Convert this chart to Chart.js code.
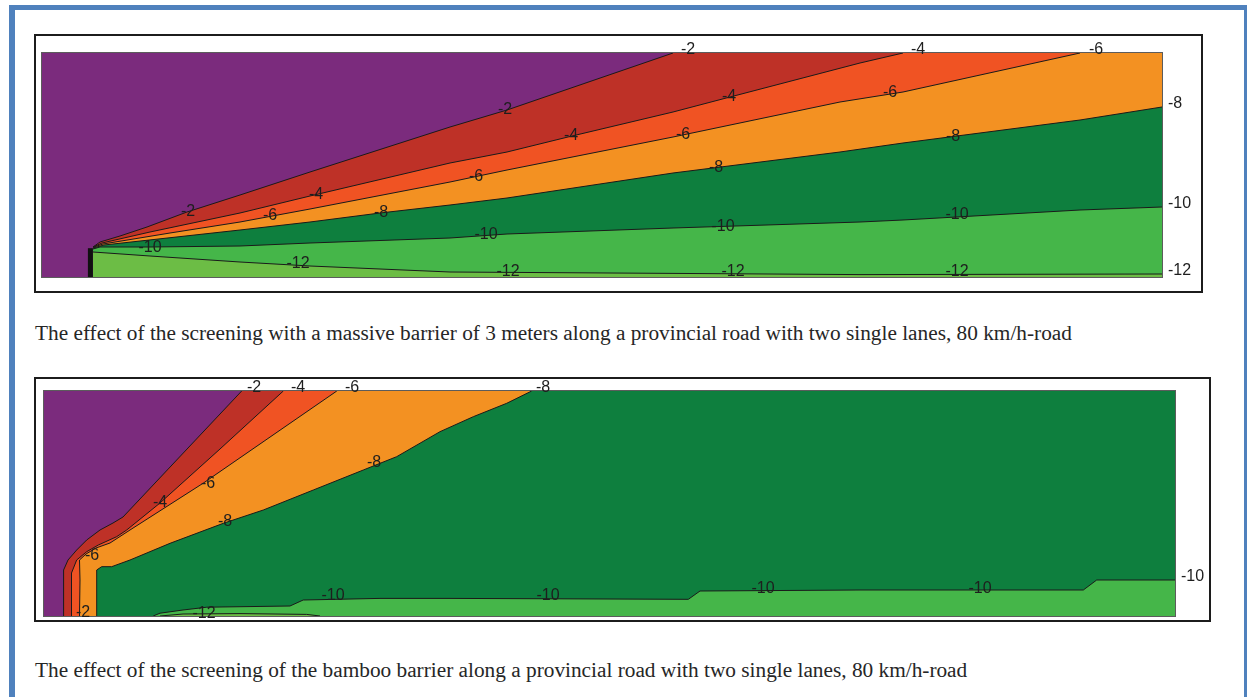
<!DOCTYPE html>
<html>
<head>
<meta charset="utf-8">
<script src="https://cdn.jsdelivr.net/npm/chart.js@4.4.0/dist/chart.umd.min.js"></script>
<style>
  html, body { margin: 0; padding: 0; background: #fff; width: 1247px; height: 697px; overflow: hidden; position: relative; }
  #page { position: absolute; left: 9px; top: 5px; width: 1238px; height: 760px; box-sizing: border-box;
          border-left: 6px solid #4F81BD; border-top: 5px solid #4F81BD; border-right: 3px solid #4F81BD; }
  .frame { position: absolute; box-sizing: border-box; border: 2px solid #1c1c1c; background: #fff; }
  .frame canvas { position: absolute; left: 0; top: 0; }
  .caption { position: absolute; left: 35px; font-family: "Liberation Serif", "Times New Roman", serif;
             font-size: 21.3px; line-height: 20px; color: #262626; white-space: nowrap; }
</style>
</head>
<body>
<div id="page"></div>

<div class="frame" style="left:34px; top:34px; width:1169px; height:259px;">
  <canvas id="massive" width="1165" height="255"></canvas>
</div>
<div class="caption" style="top:322.8px;">The effect of the screening with a massive barrier of 3 meters along a provincial road with two single lanes, 80 km/h-road</div>

<div class="frame" style="left:34px; top:377px; width:1177px; height:245px;">
  <canvas id="bamboo" width="1173" height="241"></canvas>
</div>
<div class="caption" style="top:659.5px;">The effect of the screening of the bamboo barrier along a provincial road with two single lanes, 80 km/h-road</div>

<script>
// ---- Contour levels (dB) ----
const levels = [-2, -4, -6, -8, -10, -12];

// ---- Massive 3 m barrier: contour lines as [distance, height] ----
const massiveLevel2  = [[12.75,7.5],[14.5,8.75],[19.5,10.25],[26.25,12.5],[36.25,16.25],[49.5,20.5],[67,26.25],[102,37.5],[116.25,41.75],[157.75,56],[280,56]];
const massiveLevel4  = [[12.75,7.5],[15,8.5],[27,11.25],[49.5,16],[67,20.25],[102,28.5],[116.25,31.25],[132.5,35.25],[157.75,41.25],[172,45],[204.5,53.5],[215.25,56],[280,56]];
const massiveLevel6  = [[12.75,7.4],[15.25,8.25],[32,11],[49.5,13.75],[67,17],[102,23.75],[116.25,26.75],[157.75,35],[199.5,43.75],[215.25,46.25],[259.5,56],[280,56]];
const massiveLevel8  = [[12.75,7.25],[15.5,8],[49.5,11.75],[67,13.75],[84.5,16],[102,18],[116.25,19.75],[157.75,26],[199.5,31.25],[215.25,33.5],[259.5,39.25],[280,42.5]];
const massiveLevel10 = [[12.75,7],[14.5,7.5],[27,7.5],[49.5,7.75],[67,8.5],[102,9.75],[116.25,10.75],[157.75,12.25],[204.5,13.75],[215.25,14.25],[259.5,16.75],[280,17.5]];
const massiveLevel12 = [[12.75,6.25],[27,5.25],[49.5,3.75],[67,2.75],[102,1.25],[157.75,0.9],[204.5,0.6],[280,0.75]];
const massiveWall    = [[12.1,0],[12.1,7.2]];
// contour labels: [level, distance, height]
const massiveLabels = [
  [-2,36.5,16.25],[-6,57,15.3],[-4,68.5,20.6],[-8,84.75,16.1],[-10,27,7.3],[-12,64,3.4],
  [-2,115.75,41.9],[-4,132.25,35.3],[-6,108.5,25.2],[-10,111,10.6],[-12,116.5,1.3],
  [-2,161.5,56.75],[-4,171.75,45],[-6,160.25,35.5],[-8,168.5,27.3],[-10,170.25,12.7],[-12,172.75,1.3],
  [-4,219,56.75],[-6,212,46],[-8,227.75,35],[-10,228.75,15.6],[-12,228.75,1.3],[-6,263.5,56.75]
];
const massiveEdgeLevels = [-8, -10, -12];

// ---- Bamboo barrier: contour lines as [distance, height] ----
const bambooLevel2  = [[4.9,0],[4.9,6.5],[4.9,11.5],[6,14],[8.17,16.5],[10.67,19],[14,21.5],[17.25,23.25],[19.75,24.75],[49.42,56.25],[282.75,56.25]];
const bambooLevel4  = [[6.875,0],[6.875,10.75],[8.17,14],[10.67,16.08],[13.58,17.75],[18.17,19.83],[20.67,21.5],[29,28.25],[44,41.75],[59.83,56.25],[282.75,56.25]];
const bambooLevel6  = [[8.875,0],[9,9],[8.875,14],[10.5,15.5],[13,17],[16.5,18.25],[21.5,21.5],[39.8,33.2],[73.2,56.25],[282.75,56.25]];
const bambooLevel8  = [[13.17,0],[13.17,11.5],[14.42,12.33],[16.92,12.33],[21.5,14],[31.5,18.17],[44.83,23.17],[54.83,26.5],[67.33,31.5],[79.83,36.5],[88.17,39.83],[99,46.08],[107.33,49.83],[115.67,53.17],[121.92,56.25],[282.75,56.25]];
const bambooLevel10 = [[27.3,0],[29,0.7],[34.75,1.5],[40.7,2.2],[61.5,2.5],[64.8,4.0],[84,4.4],[101.5,4.4],[161.08,4.17],[164,6.25],[204,6.5],[259.83,6.5],[263.17,9],[282.75,9]];
const bambooLevel12 = [[29,0],[34.75,0.5],[49,0.6],[65.67,0.4],[69,0]];
const bambooLabels = [
  [-2,52.5,57],[-4,63.5,57],[-6,77,57],[-8,124.75,57],
  [-4,29,28.25],[-6,41,33],[-8,82.5,38.25],[-8,45.25,23.5],[-6,12,15],[-2,9.75,0.75],
  [-12,40,0.5],[-10,72.25,5],[-10,126,5],[-10,179.75,6.75],[-10,234,6.75]
];
const bambooEdgeLevels = [-10];

// ---- Styling ----
const ABOVE_COLOR = '#7B2B7D';
const BAND_COLORS = ['#BE3127', '#F05323', '#F39122', '#0E7F3E', '#45B649', '#6CBD45'];
const LINE_COLOR = '#1a1a1a';
const LABEL_FONT = '16px "Liberation Sans", Arial, sans-serif';

function toXY(pairs) { return pairs.map(p => ({ x: p[0], y: p[1] })); }

// part of a contour that lies inside the plot (stops where it meets the top edge)
function visiblePart(pairs, yMax) {
  const idx = pairs.findIndex(p => p[1] >= yMax);
  return idx < 0 ? pairs : pairs.slice(0, idx + 1);
}

function makeLabelPlugin(lines, labels, edgeLevels) {
  return {
    id: 'contourLabels',
    afterDatasetsDraw(chart) {
      const { ctx, chartArea, scales } = chart;
      const xs = scales.x, ys = scales.y;
      ctx.save();
      ctx.strokeStyle = '#5c5c5c';
      ctx.lineWidth = 1;
      ctx.strokeRect(chartArea.left - 0.5, chartArea.top - 0.5, chartArea.width + 1, chartArea.height + 1);
      ctx.font = LABEL_FONT;
      ctx.fillStyle = '#1e1e1e';
      ctx.textAlign = 'center';
      ctx.textBaseline = 'middle';
      labels.forEach(([lvl, vx, vy]) => {
        ctx.fillText(String(lvl), xs.getPixelForValue(vx), ys.getPixelForValue(vy));
      });
      ctx.textAlign = 'left';
      edgeLevels.forEach(lvl => {
        const ln = lines.find(l => l.level === lvl);
        const last = ln.points[ln.points.length - 1];
        ctx.fillText(String(lvl), chartArea.right + 6, ys.getPixelForValue(last[1]) - 3);
      });
      ctx.restore();
    }
  };
}

function contourChart(id, lines, wall, labels, edgeLevels, xMax, yMax, padding) {
  const datasets = [{
    data: toXY([[0, yMax], [xMax, yMax]]),
    backgroundColor: ABOVE_COLOR, borderWidth: 0, fill: 'start', order: 40
  }];
  // filled bands, painted from the highest level downwards
  lines.forEach((ln, i) => {
    datasets.push({
      label: String(ln.level),
      data: toXY(ln.points),
      backgroundColor: BAND_COLORS[levels.indexOf(ln.level)],
      borderWidth: 0,
      fill: 'start',
      order: 30 - i
    });
  });
  // contour strokes
  lines.forEach(ln => {
    datasets.push({
      data: toXY(visiblePart(ln.points, yMax)),
      borderColor: LINE_COLOR, borderWidth: 1, fill: false, order: 5
    });
  });
  if (wall) {
    datasets.push({ data: toXY(wall), borderColor: '#111', borderWidth: 5, fill: false, order: 0 });
  }
  return new Chart(document.getElementById(id), {
    type: 'line',
    data: { datasets },
    options: {
      responsive: false,
      animation: false,
      elements: { point: { radius: 0, hoverRadius: 0 }, line: { tension: 0 } },
      layout: { padding },
      scales: {
        x: { type: 'linear', min: 0, max: xMax, display: false },
        y: { type: 'linear', min: 0, max: yMax, display: false }
      },
      plugins: { legend: { display: false }, tooltip: { enabled: false } },
      events: []
    },
    plugins: [makeLabelPlugin(lines, labels, edgeLevels)]
  });
}

const massiveLines = [
  { level: -2, points: massiveLevel2 }, { level: -4, points: massiveLevel4 },
  { level: -6, points: massiveLevel6 }, { level: -8, points: massiveLevel8 },
  { level: -10, points: massiveLevel10 }, { level: -12, points: massiveLevel12 }
];
const bambooLines = [
  { level: -2, points: bambooLevel2 }, { level: -4, points: bambooLevel4 },
  { level: -6, points: bambooLevel6 }, { level: -8, points: bambooLevel8 },
  { level: -10, points: bambooLevel10 }, { level: -12, points: bambooLevel12 }
];

contourChart('massive', massiveLines, massiveWall, massiveLabels, massiveEdgeLevels, 280, 56,
             { left: 6, top: 17, right: 39, bottom: 14 });
contourChart('bamboo', bambooLines, null, bambooLabels, bambooEdgeLevels, 282.75, 56.25,
             { left: 8, top: 12, right: 34, bottom: 4 });
</script>
</body>
</html>
